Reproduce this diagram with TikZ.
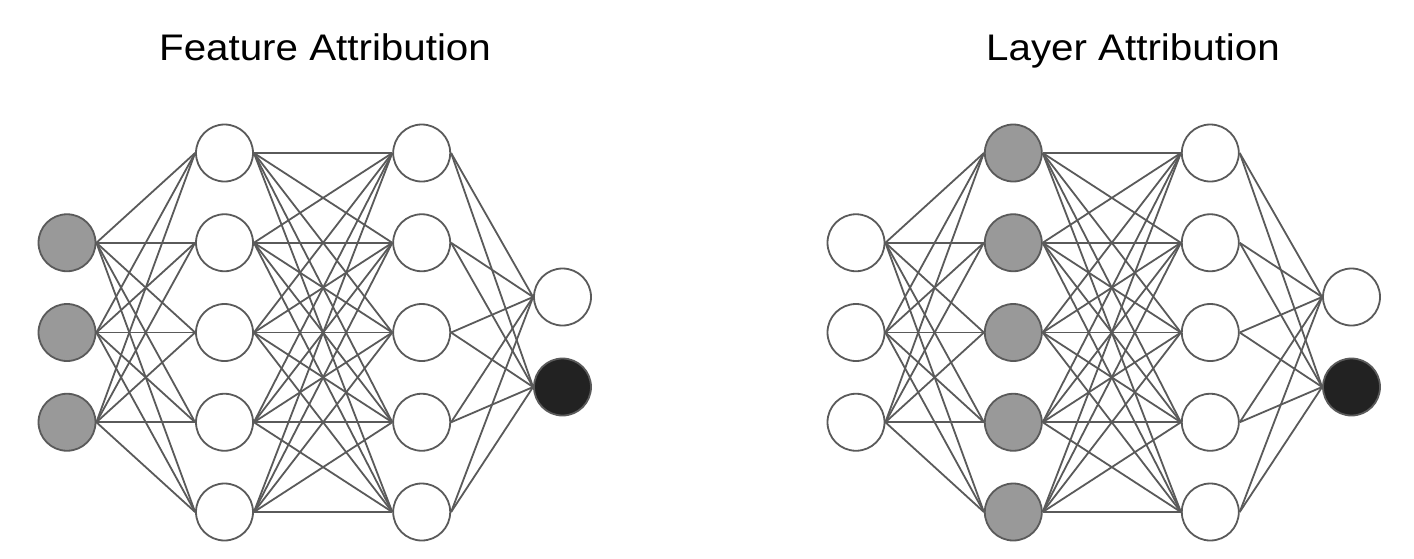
\documentclass[tikz,border=0pt]{standalone}
\usepackage{fontspec}
\usepackage{graphicx}
\setmainfont{Liberation Sans}
\definecolor{edgegray}{HTML}{5A5A5A}
\definecolor{fillgray}{HTML}{999999}
\definecolor{fillblack}{HTML}{222222}
\tikzset{
  neuron/.style={circle, draw=edgegray, line width=1.8pt, fill=white, minimum size=57pt, inner sep=0pt},
  active/.style={neuron, fill=fillgray},
  target/.style={neuron, fill=fillblack},
  conn/.style={draw=edgegray, line width=1.8pt},
  title/.style={anchor=base, font=\fontsize{37}{44}\selectfont, text=black, inner sep=0pt}
}
\begin{document}
\begin{tikzpicture}[x=1pt, y=-1pt]
\useasboundingbox (0,0) rectangle (1414,558);
\fill[white] (0,0) rectangle (1414,558);
% titles
\node[title] (t1) at (325,60) {\scalebox{1.09}[1]{Feature Attribution}};
\node[title] (t2) at (1133,60) {\scalebox{1.09}[1]{Layer Attribution}};
% left network
\foreach \i/\y in {1/242.75,2/332.5,3/422.25}
  \node[active] (La\i) at (67,\y) {};
\foreach \i/\y in {1/153,2/242.75,3/332.5,4/422.25,5/512}
  \node[neuron] (Lb\i) at (224.5,\y) {};
\foreach \i/\y in {1/153,2/242.75,3/332.5,4/422.25,5/512}
  \node[neuron] (Lc\i) at (421.7,\y) {};
\node[neuron] (Ld1) at (562.5,297) {};
\node[target] (Ld2) at (562.5,387) {};
% right network
\foreach \i/\y in {1/242.75,2/332.5,3/422.25}
  \node[neuron] (Ra\i) at (856,\y) {};
\foreach \i/\y in {1/153,2/242.75,3/332.5,4/422.25,5/512}
  \node[active] (Rb\i) at (1013.3,\y) {};
\foreach \i/\y in {1/153,2/242.75,3/332.5,4/422.25,5/512}
  \node[neuron] (Rc\i) at (1210.3,\y) {};
\node[neuron] (Rd1) at (1351.5,297) {};
\node[target] (Rd2) at (1351.5,387) {};
% connections
\foreach \n in {L,R}{
  \foreach \a in {1,2,3}
    \foreach \b in {1,...,5}
      \draw[conn] (\n a\a.east) -- (\n b\b.west);
  \foreach \b in {1,...,5}
    \foreach \c in {1,...,5}
      \draw[conn] (\n b\b.east) -- (\n c\c.west);
  \foreach \c in {1,...,5}
    \foreach \d in {1,2}
      \draw[conn] (\n c\c.east) -- (\n d\d.west);
}
\end{tikzpicture}
\end{document}
